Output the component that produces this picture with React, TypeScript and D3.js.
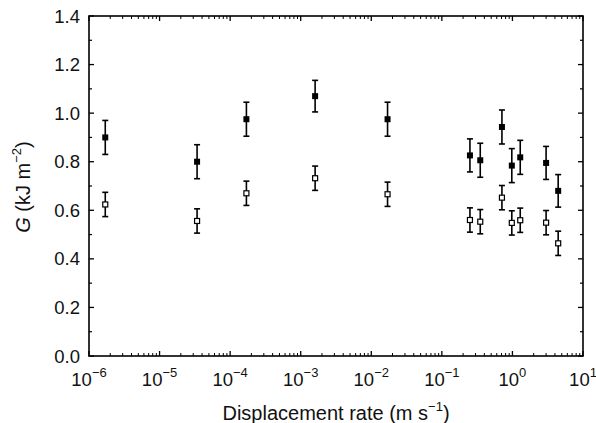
import React from "react";
import * as d3 from "d3";

const rates = [1.7e-6, 3.4e-5, 1.7e-4, 1.6e-3, 1.7e-2, 0.25, 0.35, 0.71, 0.98, 1.29, 3.0, 4.45];
const filledG = [0.90, 0.80, 0.975, 1.07, 0.975, 0.826, 0.806, 0.943, 0.784, 0.818, 0.795, 0.68];
const filledErr = [0.07, 0.07, 0.07, 0.065, 0.07, 0.068, 0.07, 0.07, 0.07, 0.07, 0.068, 0.067];
const openG = [0.624, 0.556, 0.670, 0.732, 0.666, 0.56, 0.553, 0.652, 0.548, 0.559, 0.549, 0.464];
const openErr = [0.05, 0.05, 0.05, 0.05, 0.05, 0.05, 0.05, 0.05, 0.05, 0.05, 0.05, 0.05];
const yTicks = [0, 0.2, 0.4, 0.6, 0.8, 1.0, 1.2, 1.4];
const xExponents = [-6, -5, -4, -3, -2, -1, 0, 1];

export default function App() {
  const W = 596, H = 423;
  const L = 89, R = 583, T = 16, B = 356;
  const x = d3.scaleLog().domain([1e-6, 10]).range([L, R]);
  const y = d3.scaleLinear().domain([0, 1.4]).range([B, T]);
  const font = "'Liberation Sans', Arial, sans-serif";
  const minorY = d3.range(0.1, 1.4, 0.2);
  const minorX: number[] = [];
  for (let e = -6; e < 1; e++) for (let k = 2; k <= 9; k++) minorX.push(k * Math.pow(10, e));
  const sq = 6, osq = 5, cap = 3;
  const tickFs = 18.5, supFs = 13, titleFs = 20;
  return (
    <svg width={W} height={H} style={{ position: "absolute", left: 0, top: 0, background: "#fff" }}>
      <rect x={L} y={T} width={R - L} height={B - T} fill="none" stroke="#000" strokeWidth={1.6} />
      {yTicks.map((v) => (
        <g key={"y" + v}>
          <line x1={L} x2={L + 5} y1={y(v)} y2={y(v)} stroke="#000" strokeWidth={1.3} />
          <line x1={R} x2={R - 5} y1={y(v)} y2={y(v)} stroke="#000" strokeWidth={1.3} />
          <text x={80} y={y(v) + 6.5} textAnchor="end" fontFamily={font} fontSize={tickFs} fill="#111">
            {v.toFixed(1)}
          </text>
        </g>
      ))}
      {minorY.map((v) => (
        <g key={"my" + v}>
          <line x1={L} x2={L + 3} y1={y(v)} y2={y(v)} stroke="#000" strokeWidth={1.2} />
          <line x1={R} x2={R - 3} y1={y(v)} y2={y(v)} stroke="#000" strokeWidth={1.2} />
        </g>
      ))}
      {xExponents.map((e) => {
        const v = Math.pow(10, e);
        return (
          <g key={"x" + e}>
            <line x1={x(v)} x2={x(v)} y1={B} y2={B - 5} stroke="#000" strokeWidth={1.3} />
            <line x1={x(v)} x2={x(v)} y1={T} y2={T + 5} stroke="#000" strokeWidth={1.3} />
            <text x={x(v)} y={386} textAnchor="middle" fontFamily={font} fontSize={tickFs} fill="#111">
              10
              <tspan dy={-9} fontSize={supFs}>{e < 0 ? "\u2212" + Math.abs(e) : String(e)}</tspan>
            </text>
          </g>
        );
      })}
      {minorX.map((v, i) => (
        <g key={"mx" + i}>
          <line x1={x(v)} x2={x(v)} y1={B} y2={B - 3} stroke="#000" strokeWidth={1} />
          <line x1={x(v)} x2={x(v)} y1={T} y2={T + 3} stroke="#000" strokeWidth={1} />
        </g>
      ))}
      {rates.map((r, i) => {
        const cx = x(r);
        return (
          <g key={"f" + i}>
            <line x1={cx} x2={cx} y1={y(filledG[i] - filledErr[i])} y2={y(filledG[i] + filledErr[i])} stroke="#000" strokeWidth={1.6} />
            <line x1={cx - cap} x2={cx + cap} y1={y(filledG[i] - filledErr[i])} y2={y(filledG[i] - filledErr[i])} stroke="#000" strokeWidth={1.6} />
            <line x1={cx - cap} x2={cx + cap} y1={y(filledG[i] + filledErr[i])} y2={y(filledG[i] + filledErr[i])} stroke="#000" strokeWidth={1.6} />
            <rect x={cx - sq / 2} y={y(filledG[i]) - sq / 2} width={sq} height={sq} fill="#000" />
          </g>
        );
      })}
      {rates.map((r, i) => {
        const cx = x(r);
        return (
          <g key={"o" + i}>
            <line x1={cx} x2={cx} y1={y(openG[i] - openErr[i])} y2={y(openG[i] + openErr[i])} stroke="#000" strokeWidth={1.6} />
            <line x1={cx - cap} x2={cx + cap} y1={y(openG[i] - openErr[i])} y2={y(openG[i] - openErr[i])} stroke="#000" strokeWidth={1.6} />
            <line x1={cx - cap} x2={cx + cap} y1={y(openG[i] + openErr[i])} y2={y(openG[i] + openErr[i])} stroke="#000" strokeWidth={1.6} />
            <rect x={cx - osq / 2} y={y(openG[i]) - osq / 2} width={osq} height={osq} fill="#fff" stroke="#000" strokeWidth={1.2} />
          </g>
        );
      })}
      <text x={(L + R) / 2} y={420} textAnchor="middle" fontFamily={font} fontSize={titleFs} fill="#111">
        Displacement rate (m s
        <tspan dy={-9} fontSize={supFs}>{"\u22121"}</tspan>
        <tspan dy={9}>)</tspan>
      </text>
      <text transform={`translate(30, 187) rotate(-90)`} textAnchor="middle" fontFamily={font} fontSize={titleFs} fill="#111">
        <tspan fontStyle="italic">G</tspan> (kJ m
        <tspan dy={-9} fontSize={supFs}>{"\u22122"}</tspan>
        <tspan dy={9}>)</tspan>
      </text>
    </svg>
  );
}
